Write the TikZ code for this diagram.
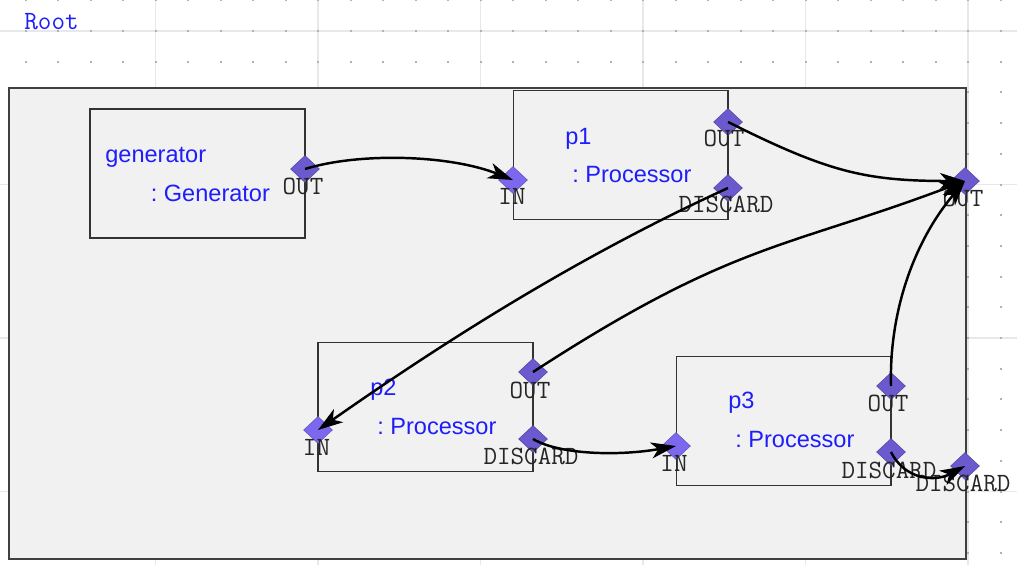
\documentclass[tikz,border=0pt]{standalone}
\usepackage{fontspec}
\setmainfont{Liberation Sans}
\usetikzlibrary{shapes.geometric,arrows.meta}

\definecolor{namecol}{RGB}{30,30,250}
\definecolor{outcol}{RGB}{106,90,205}
\definecolor{incol}{RGB}{123,104,238}
\definecolor{panel}{RGB}{241,241,241}

\begin{document}
\begin{tikzpicture}[x=0.02cm, y=-0.02cm]
    \tikzstyle{block} = [rectangle, draw=black!80, line width=0.6pt, minimum width=4.3cm, minimum height=2.58cm, inner sep=0pt]
    \tikzstyle{outport} = [diamond, fill=outcol, draw=outcol!80!black, line width=0.3pt, minimum width=0.58cm, minimum height=0.54cm, inner sep=0pt]
    \tikzstyle{inport} = [outport, fill=incol, draw=incol!80!black]
    \tikzstyle{portname} = [font=\ttfamily\fontsize{15}{15}\selectfont, text=black!85, inner sep=0pt]
    \tikzstyle{instname} = [font=\fontsize{13.4}{16}\selectfont, text=namecol, anchor=base west, inner sep=0pt]
    \tikzstyle{wire} = [line width=1.4pt, -{Stealth[length=0.5cm, width=0.32cm, inset=0.14cm]}]

    \useasboundingbox (0,0) rectangle (1017,565);

    % background grid
    \foreach \i in {0,...,6}
        \draw[black!9, line width=0.8pt] (-7+162.5*\i,0) -- (-7+162.5*\i,565);
    \foreach \j in {0,...,3}
        \draw[black!9, line width=0.8pt] (0,31+153.5*\j) -- (1017,31+153.5*\j);
    \foreach \i in {0,...,30}
        \foreach \j in {0,...,18}
            \fill[black!30] (24.7+32.5*\i,-0.7+30.7*\j) rectangle +(2,2);

    \node[rectangle, draw=black!75, line width=1pt, fill=panel, minimum width=19.14cm, minimum height=9.42cm, inner sep=0pt] (root) at (487.5,323.5) {};
    \node[portname, text=namecol] (rootname) at (51.5,22) {Root};

    \node[block] (gen) at (197.5,173.5) {};
    \node[block] (p1) at (620.5,155) {};
    \node[block] (p2) at (425.5,407) {};
    \node[block] (p3) at (783.5,421) {};

    \node[instname] (genname) at (105,162) {generator};
    \node[instname] (gentype) at (150.5,201) {:\ Generator};
    \node[instname] (p1name) at (565,144) {p1};
    \node[instname] (p1type) at (572,182) {:\ Processor};
    \node[instname] (p2name) at (370,395.5) {p2};
    \node[instname] (p2type) at (377,434) {:\ Processor};
    \node[instname] (p3name) at (728,408.5) {p3};
    \node[instname] (p3type) at (735,447) {:\ Processor};

    \node[outport] (genout) at (305,169) {};
    \node[inport] (p1in) at (513,180) {};
    \node[outport] (p1out) at (728,122) {};
    \node[outport] (p1disc) at (728,188) {};
    \node[inport] (p2in) at (318,430) {};
    \node[outport] (p2out) at (533,372) {};
    \node[outport] (p2disc) at (533,439) {};
    \node[inport] (p3in) at (676,446) {};
    \node[outport] (p3out) at (891,386) {};
    \node[outport] (p3disc) at (891,452) {};
    \node[outport] (rootout) at (965,181) {};
    \node[outport] (rootdisc) at (965,466) {};

    \node[portname] (genoutl) at (303,186) {OUT};
    \node[portname] (p1inl) at (512,196.5) {IN};
    \node[portname] (p1outl) at (724,138.5) {OUT};
    \node[portname] (p1discl) at (726,204.5) {DISCARD};
    \node[portname] (p2inl) at (316.5,447) {IN};
    \node[portname] (p2outl) at (530,390) {OUT};
    \node[portname] (p2discl) at (531,456.5) {DISCARD};
    \node[portname] (p3inl) at (674,463) {IN};
    \node[portname] (p3outl) at (888,403) {OUT};
    \node[portname] (p3discl) at (889,470) {DISCARD};
    \node[portname] (rootoutl) at (963,198) {OUT};
    \node[portname] (rootdiscl) at (963,483) {DISCARD};

    \draw[wire] (genout.center) .. controls (360,152) and (450,155) .. (p1in.center);
    \draw[wire] (p1out.center) .. controls (828,172) and (865,181) .. (rootout.center);
    \draw[wire] (p1disc.center) .. controls (588,252) and (458,332) .. (p2in.center);
    \draw[wire] (p2out.center) .. controls (733,242) and (785,249) .. (rootout.center);
    \draw[wire] (p3out.center) .. controls (889,310) and (915,240) .. (rootout.center);
    \draw[wire] (p2disc.center) .. controls (560,455) and (620,456) .. (p3in.center);
    \draw[wire] (p3disc.center) .. controls (905,480) and (935,482) .. (rootdisc.center);
\end{tikzpicture}
\end{document}
